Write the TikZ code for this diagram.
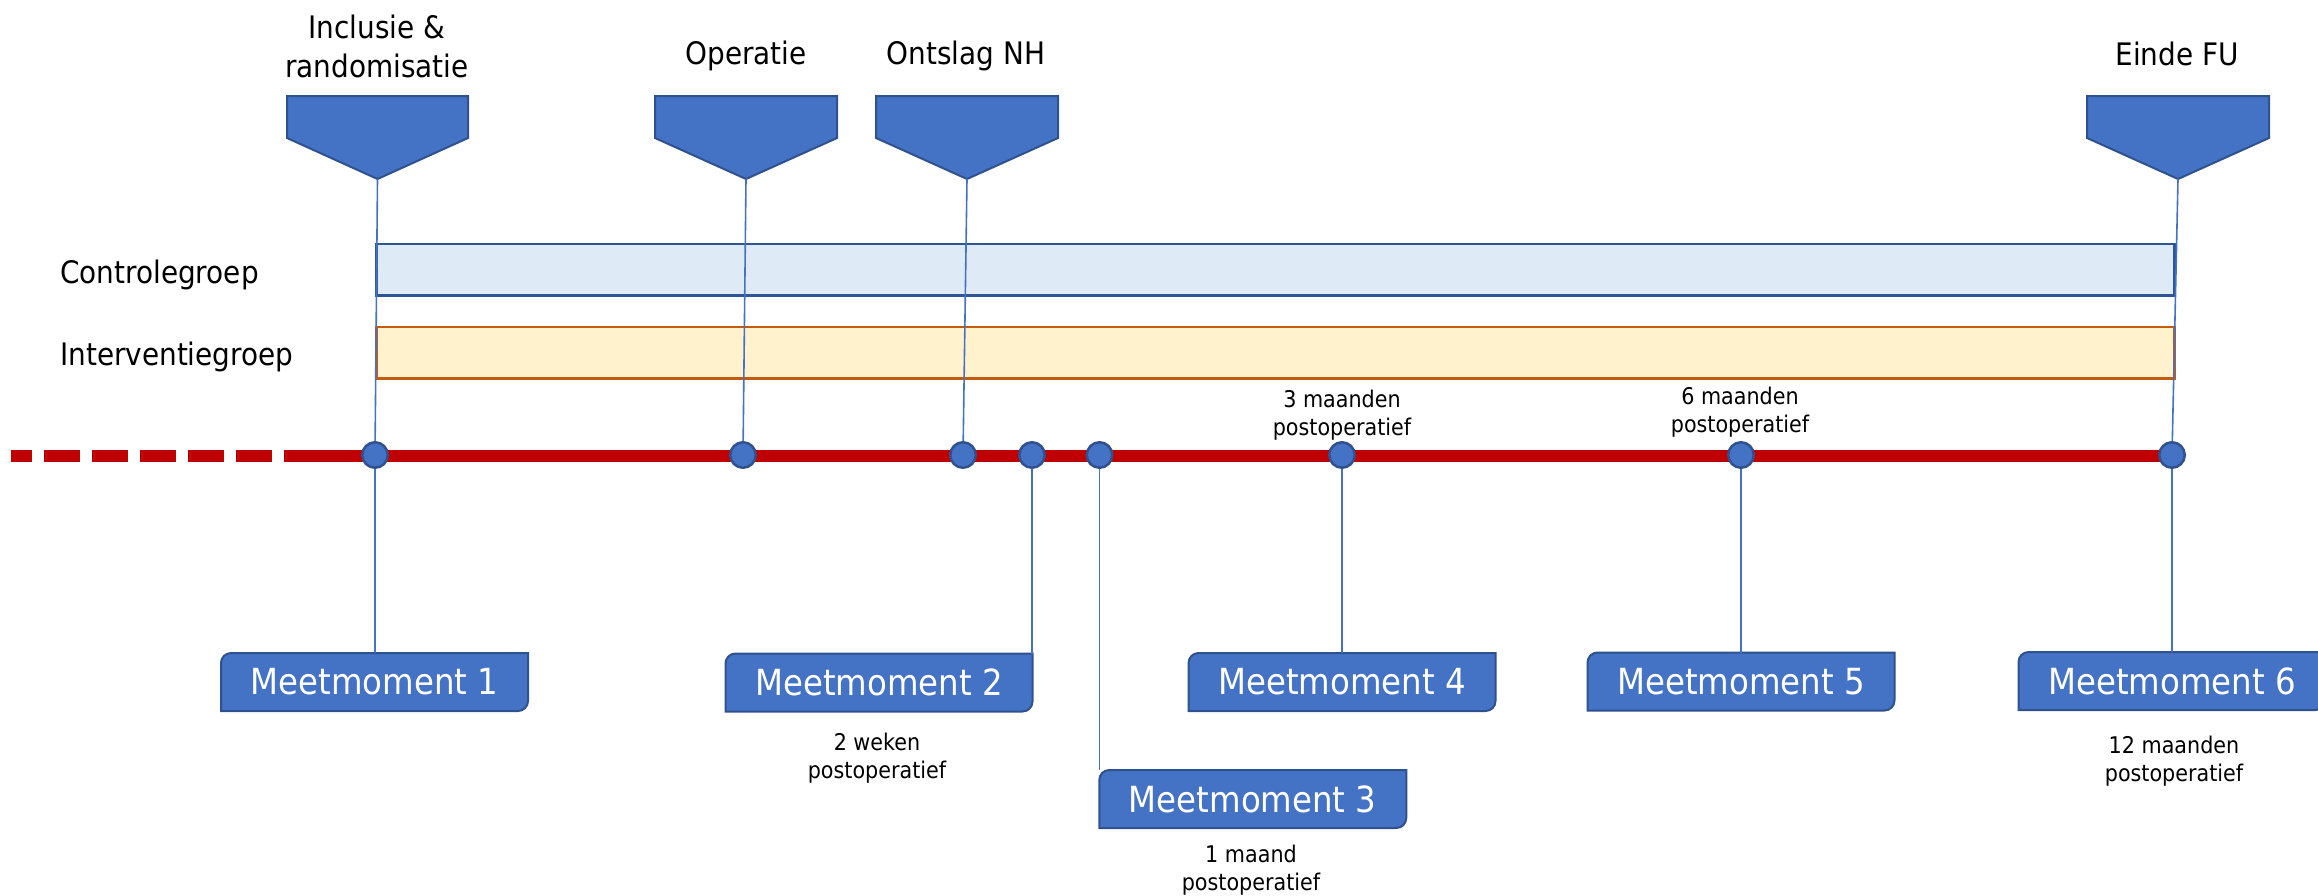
\documentclass[tikz,border=0pt]{standalone}
\usepackage{fontspec}
\setmainfont{DejaVu Sans}[FakeStretch=0.9]
\usetikzlibrary{calc,backgrounds}
\definecolor{accblue}{HTML}{4472C4}
\definecolor{darkblue}{HTML}{2F528F}
\definecolor{ctrlfill}{HTML}{DEEBF7}
\definecolor{ctrlline}{HTML}{2F5597}
\definecolor{intfill}{HTML}{FFF2CC}
\definecolor{intline}{HTML}{C55A11}
\definecolor{tlred}{HTML}{C00000}
\newcommand\fbig{\fontsize{31}{39}\selectfont}
\newcommand\fmm{\fontsize{36}{43}\selectfont}
\newcommand\fsmall{\fontsize{23}{28.5}\selectfont}
\newcommand\flagshape[3]{%
  \path[flagstyle] (#2,96) -- (#3,96) -- (#3,138) -- ({(#2+#3)/2},179) -- (#2,138) -- cycle;
  \coordinate (#1) at ({(#2+#3)/2},179);}
\newcommand\mmbox[4]{%
  \node[mmtext] (#1) at (#2,#3) {#4};
  \begin{scope}[on background layer]
    \path[mmshape] (#1.south west) -- ($(#1.north west)+(0,10)$)
      .. controls ($(#1.north west)+(0,4.5)$) and ($(#1.north west)+(4.5,0)$) .. ($(#1.north west)+(10,0)$)
      -- (#1.north east) -- ($(#1.south east)+(0,-10)$)
      .. controls ($(#1.south east)+(0,-4.5)$) and ($(#1.south east)+(-4.5,0)$) .. ($(#1.south east)+(-10,0)$)
      -- cycle;
  \end{scope}}
\begin{document}
\begin{tikzpicture}[x=1pt,y=-1pt,
  conn/.style={draw=accblue, line width=1.6pt},
  dot/.style={circle, fill=accblue, draw=darkblue, line width=2.5pt, minimum size=25.5pt, inner sep=0pt},
  flagstyle/.style={fill=accblue, draw=darkblue, line width=2pt, line join=miter},
  mmtext/.style={text=white, font=\fmm, minimum width=307pt, minimum height=58pt, inner sep=0pt, outer sep=0pt},
  mmshape/.style={fill=accblue, draw=darkblue, line width=2pt},
  lbl/.style={font=\fbig, inner sep=0pt, text=black},
  note/.style={font=\fsmall, align=center, inner sep=0pt, text=black},
  timeline/.style={draw=tlred, line width=12pt}]
\useasboundingbox (0,0) rectangle (2318,895);

% group bars
\draw[fill=ctrlfill, draw=ctrlline, line width=2.5pt] (376.5,244) rectangle (2174.5,295.5);
\draw[fill=intfill, draw=intline, line width=2.5pt] (376.5,327) rectangle (2174.5,378.5);
\node[lbl, anchor=base west] (lctrl) at (60,283) {Controlegroep};
\node[lbl, anchor=base west] (lint) at (60,365) {Interventiegroep};

% timeline
\draw[timeline, dash pattern=on 36pt off 12pt] (320,456) -- (11,456);
\draw[timeline] (318,456) -- (2170,456);

% flags
\flagshape{f1}{287}{468}
\flagshape{f2}{655}{837}
\flagshape{f3}{876}{1058}
\flagshape{f4}{2087}{2269}
\node[lbl, align=center] (tincl) at (377,46) {Inclusie \&\\randomisatie};
\node[lbl, anchor=base] (top) at (746,64) {Operatie};
\node[lbl, anchor=base] (tont) at (966,64) {Ontslag NH};
\node[lbl, anchor=base] (teinde) at (2177,65) {Einde FU};

% dots
\node[dot] (c1) at (375,455) {};
\node[dot] (c2) at (743,455) {};
\node[dot] (c3) at (963,455) {};
\node[dot] (c4) at (1032,455) {};
\node[dot] (c5) at (1099.5,455) {};
\node[dot] (c6) at (1342,455) {};
\node[dot] (c7) at (1741,455) {};
\node[dot] (c8) at (2172,455) {};

% measurement boxes
\mmbox{m1}{374.5}{682}{Meetmoment 1}
\mmbox{m2}{879}{682.5}{Meetmoment 2}
\mmbox{m3}{1252.75}{799}{Meetmoment 3}
\mmbox{m4}{1342}{682}{Meetmoment 4}
\mmbox{m5}{1741}{681.5}{Meetmoment 5}
\mmbox{m6}{2172}{681}{Meetmoment 6}

% connectors
\draw[conn] (f1) -- (c1);
\draw[conn] (f2) -- (c2);
\draw[conn] (f3) -- (c3);
\draw[conn] (f4) -- (c8);
\draw[conn] (c1) -- (c1 |- m1.north);
\draw[conn] (c4) -- (c4 |- m2.north);
\draw[conn] (c5) -- (c5 |- m3.north);
\draw[conn] (c6) -- (c6 |- m4.north);
\draw[conn] (c7) -- (c7 |- m5.north);
\draw[conn] (c8) -- (c8 |- m6.north);

% notes
\node[note] (n3) at (1342,415) {3 maanden\\postoperatief};
\node[note] (n6) at (1740,412) {6 maanden\\postoperatief};
\node[note] (n2) at (877,758) {2 weken\\postoperatief};
\node[note] (n1) at (1251,870) {1 maand\\postoperatief};
\node[note] (n12) at (2174,761) {12 maanden\\postoperatief};
\end{tikzpicture}
\end{document}
